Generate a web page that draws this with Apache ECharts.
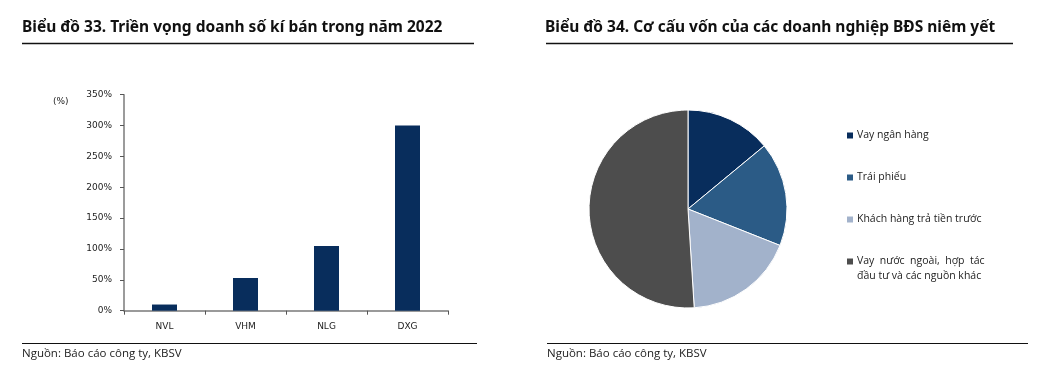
<!DOCTYPE html>
<html>
<head>
<meta charset="utf-8">
<script src="https://cdn.jsdelivr.net/npm/echarts@6/dist/echarts.min.js"></script>
<style>
html,body{margin:0;padding:0;background:#fff;}
#c{width:1041px;height:374px;}
</style>
</head>
<body>
<div id="c"></div>
<script>
// Data
var barCategories = ['NVL', 'VHM', 'NLG', 'DXG'];
var barValues = [10, 53, 105, 300];
var yTicks = [0, 50, 100, 150, 200, 250, 300, 350];
var pieNames = ['Vay ngân hàng', 'Trái phiếu', 'Khách hàng trả tiền trước', 'Vay nước ngoài, hợp tác đầu tư và các nguồn khác'];
var pieValues = [14, 17, 18, 51];
var title1 = 'Biểu đồ 33. Triền vọng doanh số kí bán trong năm 2022';
var title2 = 'Biểu đồ 34. Cơ cấu vốn của các doanh nghiệp BĐS niêm yết';
var sourceText = 'Nguồn: Báo cáo công ty, KBSV';

var pieColors = ['#082d5c', '#2b5b86', '#a2b2cb', '#4d4d4d'];
var titleFont = '"Noto Sans", "Open Sans", sans-serif';
var axisFont = '"DejaVu Sans", Verdana, sans-serif';
var legendFont = '"Open Sans", "Noto Sans", sans-serif';

var chart = echarts.init(document.getElementById('c'), null, {renderer: 'canvas'});

var legendTops = [128, 170, 212, 239];
var legends = pieNames.map(function (n, i) {
  return {
    data: [n],
    orient: 'vertical',
    left: 845,
    top: legendTops[i],
    itemWidth: 8,
    itemHeight: 8,
    itemGap: 4,
    icon: 'rect',
    selectedMode: false,
    padding: 0,
    textStyle: {fontFamily: legendFont, fontSize: 10.5, color: '#222', lineHeight: 15, padding: [0, 0, 0, -2]},
    formatter: function (name) {
      if (name === pieNames[3]) return '\nVay  nước  ngoài,  hợp  tác\nđầu tư và các nguồn khác';
      return name;
    }
  };
});

var srcStyle = {fontFamily: '"Open Sans", sans-serif', fontWeight: 'normal', fontSize: 11.5, color: '#222'};
var titleStyle = {fontFamily: titleFont, fontWeight: 'bold', fontSize: 15.5, color: '#111'};

var option = {
  animation: false,
  backgroundColor: '#ffffff',
  title: [
    {text: title1, left: 22, top: 20, padding: 0, textStyle: titleStyle},
    {text: title2, left: 545, top: 20, padding: 0, textStyle: titleStyle},
    {text: sourceText, left: 22, top: 348, padding: 0, textStyle: srcStyle},
    {text: sourceText, left: 547, top: 348, padding: 0, textStyle: srcStyle},
    {text: '(%)', left: 53, top: 97, padding: 0, textStyle: {fontFamily: axisFont, fontWeight: 'normal', fontSize: 9, color: '#222'}}
  ],
  legend: legends,
  graphic: [
    {type: 'line', shape: {x1: 22, y1: 43.5, x2: 474, y2: 43.5}, style: {stroke: '#111', lineWidth: 1.5}},
    {type: 'line', shape: {x1: 546, y1: 43.5, x2: 1013, y2: 43.5}, style: {stroke: '#111', lineWidth: 1.5}},
    {type: 'line', shape: {x1: 22, y1: 343.5, x2: 477, y2: 343.5}, style: {stroke: '#111', lineWidth: 1.2}},
    {type: 'line', shape: {x1: 547, y1: 343.5, x2: 1028, y2: 343.5}, style: {stroke: '#111', lineWidth: 1.2}}
  ],
  grid: {left: 124, top: 94.7, width: 324, height: 216, containLabel: false},
  xAxis: {
    type: 'category',
    data: barCategories,
    axisLine: {lineStyle: {color: '#7a7a7a', width: 1.5}},
    axisTick: {show: true, length: 4, lineStyle: {color: '#555'}},
    axisLabel: {fontFamily: axisFont, fontSize: 9, color: '#222', margin: 11}
  },
  yAxis: {
    type: 'value',
    min: 0,
    max: 350,
    interval: 50,
    axisLine: {show: true, lineStyle: {color: '#7a7a7a', width: 1.5}},
    axisTick: {show: true, length: 4, lineStyle: {color: '#555'}},
    splitLine: {show: false},
    axisLabel: {fontFamily: axisFont, fontSize: 9, color: '#222', margin: 12, formatter: '{value}%'}
  },
  series: [
    {
      type: 'bar',
      data: barValues,
      barWidth: 25,
      itemStyle: {color: '#082d5c'}
    },
    {
      type: 'pie',
      center: [688, 209],
      radius: 99,
      startAngle: 90,
      clockwise: true,
      label: {show: false},
      labelLine: {show: false},
      itemStyle: {borderColor: '#ffffff', borderWidth: 1},
      data: pieNames.map(function (n, i) {
        return {name: n, value: pieValues[i], itemStyle: {color: pieColors[i]}};
      })
    }
  ]
};
chart.setOption(option);
</script>
</body>
</html>
